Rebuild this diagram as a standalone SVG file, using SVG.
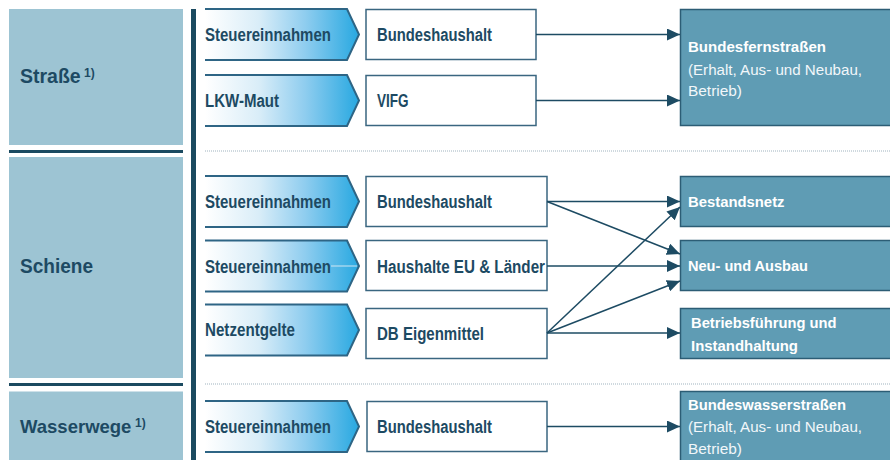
<svg xmlns="http://www.w3.org/2000/svg" width="890" height="460" viewBox="0 0 890 460">
<defs>
  <linearGradient id="chev" x1="0" y1="0" x2="1" y2="0">
    <stop offset="0" stop-color="#ffffff"/>
    <stop offset="0.35" stop-color="#d9edf8"/>
    <stop offset="0.65" stop-color="#8fcdef"/>
    <stop offset="1" stop-color="#27a8e1"/>
  </linearGradient>
  <marker id="ah" markerWidth="13" markerHeight="12" refX="13" refY="6" orient="auto" markerUnits="userSpaceOnUse">
    <path d="M0,0 L13,6 L0,12 z" fill="#1d4b63"/>
  </marker>
</defs>
<style>
  .cat { fill: #9dc4d3; }
  .dark { fill: #1b4a60; }
  .catt { font-family: "Liberation Sans", Arial, sans-serif; font-weight: bold; font-size: 20px; fill: #1d4a63; }
  .sup { font-family: "Liberation Sans", Arial, sans-serif; font-weight: bold; font-size: 12px; fill: #1d4a63; }
  .chf { fill: url(#chev); }
  .chs { fill: none; stroke: #2e6585; stroke-width: 2; }
  .lbl { font-family: "Liberation Sans", Arial, sans-serif; font-weight: bold; font-size: 18px; fill: #1d4a63; }
  .wb { fill: #ffffff; stroke: #3a6680; stroke-width: 1.5; }
  .rb { fill: #5f9cb4; stroke: #2c5d75; stroke-width: 1.5; }
  .rt { font-family: "Liberation Sans", Arial, sans-serif; font-weight: bold; font-size: 15.5px; fill: #ffffff; }
  .rr { font-family: "Liberation Sans", Arial, sans-serif; font-weight: normal; font-size: 15.5px; fill: #f2f7fa; }
  .con { stroke: #1d4b63; stroke-width: 1.5; fill: none; marker-end: url(#ah); }
  .dot { stroke: #9fb3bf; stroke-width: 1; stroke-dasharray: 1 1; }
</style>

<!-- category column -->
<g id="cat-strasse">
  <rect class="cat" x="9" y="9" width="174" height="136"/>
  <rect class="dark" x="9" y="150" width="174" height="3"/>
  <text class="catt" x="20" y="83" style="font-size:19.5px">Straße</text>
  <text class="sup" x="84" y="77">1)</text>
</g>
<g id="cat-schiene">
  <rect class="cat" x="9" y="157" width="174" height="221"/>
  <rect class="dark" x="9" y="383" width="174" height="3"/>
  <text class="catt" x="20" y="273" textLength="73" lengthAdjust="spacingAndGlyphs">Schiene</text>
</g>
<g id="cat-wasser">
  <rect class="cat" x="9" y="391.5" width="174" height="70"/>
  <text class="catt" x="20" y="433" style="font-size:18.5px">Wasserwege</text>
  <text class="sup" x="135" y="427">1)</text>
</g>

<rect id="vbar" class="dark" x="191" y="9" width="5" height="451"/>

<g id="separators">
  <line class="dot" x1="205" y1="151" x2="890" y2="151"/>
  <line class="dot" x1="205" y1="384" x2="890" y2="384"/>
</g>

<!-- sources (chevrons) -->
<g id="src-s1">
  <polygon class="chf" points="205,9 347,9 359,34.5 347,60 205,60"/>
  <path class="chs" d="M205,9 H347 L359,34.5 L347,60 H205"/>
  <text class="lbl" x="205" y="41" textLength="126" lengthAdjust="spacingAndGlyphs">Steuereinnahmen</text>
</g>
<g id="src-s2">
  <polygon class="chf" points="205,75 347,75 359,100.5 347,126 205,126"/>
  <path class="chs" d="M205,75 H347 L359,100.5 L347,126 H205"/>
  <text class="lbl" x="205" y="107" textLength="74" lengthAdjust="spacingAndGlyphs">LKW-Maut</text>
</g>
<g id="src-b1">
  <polygon class="chf" points="205,176 347,176 359,201.5 347,227 205,227"/>
  <path class="chs" d="M205,176 H347 L359,201.5 L347,227 H205"/>
  <text class="lbl" x="205" y="208.3" textLength="126" lengthAdjust="spacingAndGlyphs">Steuereinnahmen</text>
</g>
<g id="src-b2">
  <polygon class="chf" points="205,240.5 347,240.5 359,266 347,291.5 205,291.5"/>
  <path class="chs" d="M205,240.5 H347 L359,266 L347,291.5 H205"/>
  <text class="lbl" x="205" y="272.7" textLength="126" lengthAdjust="spacingAndGlyphs">Steuereinnahmen</text>
</g>
<g id="src-b3">
  <polygon class="chf" points="205,304.5 347,304.5 359,330 347,355.5 205,355.5"/>
  <path class="chs" d="M205,304.5 H347 L359,330 L347,355.5 H205"/>
  <text class="lbl" x="205" y="336" textLength="90" lengthAdjust="spacingAndGlyphs">Netzentgelte</text>
</g>
<g id="src-w1">
  <polygon class="chf" points="205,401 347,401 359,426.5 347,452 205,452"/>
  <path class="chs" d="M205,401 H347 L359,426.5 L347,452 H205"/>
  <text class="lbl" x="205" y="433" textLength="126" lengthAdjust="spacingAndGlyphs">Steuereinnahmen</text>
</g>

<!-- budgets (white boxes) -->
<g id="bud-s1">
  <rect class="wb" x="366" y="9.5" width="170" height="50"/>
  <text class="lbl" x="377" y="41" textLength="115" lengthAdjust="spacingAndGlyphs">Bundeshaushalt</text>
</g>
<g id="bud-s2">
  <rect class="wb" x="366" y="75.5" width="170" height="50"/>
  <text class="lbl" x="377" y="107" textLength="31.5" lengthAdjust="spacingAndGlyphs">VIFG</text>
</g>
<g id="bud-b1">
  <rect class="wb" x="366" y="176.5" width="181" height="50"/>
  <text class="lbl" x="377" y="208" textLength="115" lengthAdjust="spacingAndGlyphs">Bundeshaushalt</text>
</g>
<g id="bud-b2">
  <rect class="wb" x="366" y="240.5" width="181" height="50"/>
  <text class="lbl" x="377" y="272.5" textLength="168" lengthAdjust="spacingAndGlyphs">Haushalte EU &amp; Länder</text>
</g>
<g id="bud-b3">
  <rect class="wb" x="366" y="308.5" width="181" height="50"/>
  <text class="lbl" x="377" y="340" textLength="107" lengthAdjust="spacingAndGlyphs">DB Eigenmittel</text>
</g>
<g id="bud-w1">
  <rect class="wb" x="367" y="401.5" width="180" height="50"/>
  <text class="lbl" x="377" y="433.3" textLength="115" lengthAdjust="spacingAndGlyphs">Bundeshaushalt</text>
</g>

<!-- targets (right boxes) -->
<g id="tgt-fern">
  <rect class="rb" x="680.5" y="9.5" width="215" height="116"/>
  <text class="rt" x="688" y="51.7" textLength="138" lengthAdjust="spacingAndGlyphs">Bundesfernstraßen</text>
  <text class="rr" x="688" y="74.5" textLength="174" lengthAdjust="spacingAndGlyphs">(Erhalt, Aus- und Neubau,</text>
  <text class="rr" x="688" y="96" textLength="54" lengthAdjust="spacingAndGlyphs">Betrieb)</text>
</g>
<g id="tgt-bestand">
  <rect class="rb" x="680.5" y="176.5" width="215" height="50"/>
  <text class="rt" x="688" y="206.7" textLength="96.5" lengthAdjust="spacingAndGlyphs">Bestandsnetz</text>
</g>
<g id="tgt-neu">
  <rect class="rb" x="680.5" y="240.5" width="215" height="50"/>
  <text class="rt" x="688" y="270.5" textLength="120" lengthAdjust="spacingAndGlyphs">Neu- und Ausbau</text>
</g>
<g id="tgt-betrieb">
  <rect class="rb" x="680.5" y="308.5" width="215" height="50"/>
  <text class="rt" x="691" y="327.5" textLength="145.5" lengthAdjust="spacingAndGlyphs">Betriebsführung und</text>
  <text class="rt" x="691" y="350.5" textLength="107" lengthAdjust="spacingAndGlyphs">Instandhaltung</text>
</g>
<g id="tgt-wasser">
  <rect class="rb" x="680.5" y="391.5" width="215" height="75"/>
  <text class="rt" x="688" y="409.5" textLength="158" lengthAdjust="spacingAndGlyphs">Bundeswasserstraßen</text>
  <text class="rr" x="688" y="432" textLength="174" lengthAdjust="spacingAndGlyphs">(Erhalt, Aus- und Neubau,</text>
  <text class="rr" x="688" y="454" textLength="54" lengthAdjust="spacingAndGlyphs">Betrieb)</text>
</g>

<!-- connectors -->
<g id="connectors">
  <line x1="331" y1="266" x2="357" y2="266" stroke="#cfe6f3" stroke-width="1"/>
  <line class="con" x1="536" y1="34.5" x2="680" y2="34.5"/>
  <line class="con" x1="536" y1="100.5" x2="680" y2="100.5"/>
  <line class="con" x1="547" y1="201.5" x2="680" y2="201.5"/>
  <line class="con" x1="547" y1="201.5" x2="680" y2="254"/>
  <line class="con" x1="547" y1="266" x2="680" y2="266"/>
  <line class="con" x1="547" y1="333" x2="680" y2="207"/>
  <line class="con" x1="547" y1="333" x2="680" y2="281"/>
  <line class="con" x1="547" y1="333" x2="680" y2="333"/>
  <line class="con" x1="547" y1="426.5" x2="680" y2="426.5"/>
</g>
</svg>
